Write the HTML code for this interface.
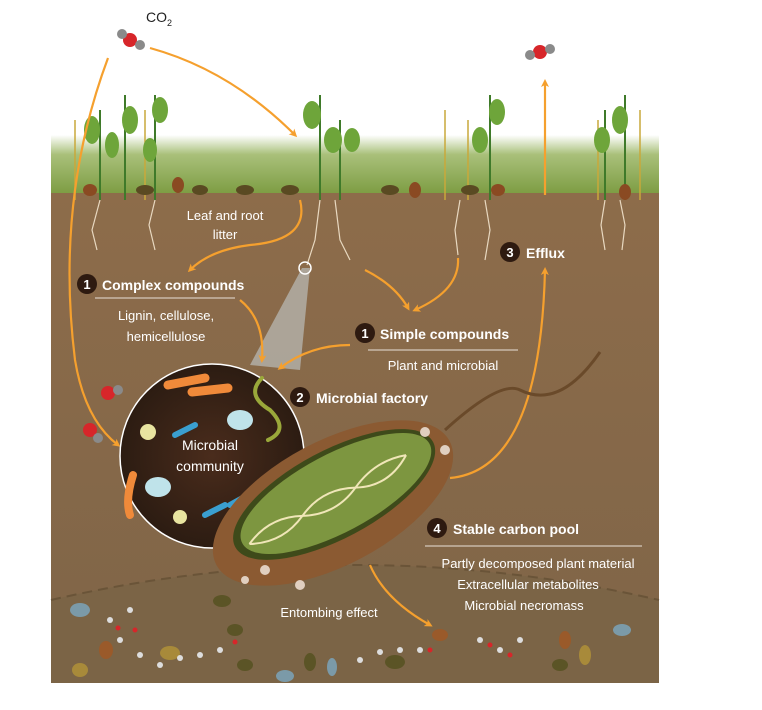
<!DOCTYPE html>
<html><head><meta charset="utf-8"><style>
html,body{margin:0;padding:0;background:#fff}
svg{display:block}
text{font-family:"Liberation Sans",sans-serif;fill:#fff}
</style></head><body>
<svg width="762" height="710" viewBox="0 0 762 710" xmlns="http://www.w3.org/2000/svg">
<defs>
<linearGradient id="grass" x1="0" y1="0" x2="0" y2="1">
<stop offset="0" stop-color="#fff"/><stop offset="0.3" stop-color="#a9c07a"/><stop offset="1" stop-color="#76973a"/></linearGradient>
<linearGradient id="soil" x1="0" y1="0" x2="0" y2="1">
<stop offset="0" stop-color="#8d6c4a"/><stop offset="1" stop-color="#7f6548"/></linearGradient>
<radialGradient id="cell" cx="0.5" cy="0.5" r="0.5">
<stop offset="0" stop-color="#4a2c1c"/><stop offset="1" stop-color="#2c1c12"/></radialGradient>
<marker id="ah" markerWidth="8" markerHeight="8" refX="5" refY="4" orient="auto" markerUnits="userSpaceOnUse">
<path d="M0,0 L8,4 L0,8 L2,4Z" fill="#f5a02e"/></marker>
</defs>
<rect x="51" y="135" width="608" height="65" fill="url(#grass)"/>
<rect x="51" y="193" width="608" height="490" fill="url(#soil)"/>
<path d="M51,600 Q355,530 659,600 L659,683 L51,683Z" fill="#7b6446"/>
<path d="M51,600 Q355,530 659,600" stroke="#6a5438" stroke-width="2" fill="none" stroke-dasharray="10,6"/>
<g stroke="#3f7a2a" stroke-width="2" fill="none">
<path d="M100,200 V110"/><path d="M125,200 V95"/><path d="M155,200 V95"/><path d="M320,200 V95"/><path d="M340,200 V120"/><path d="M490,200 V95"/><path d="M605,200 V110"/><path d="M625,200 V95"/>
</g>
<g stroke="#c9a83a" stroke-width="1.5"><path d="M75,200 V120"/><path d="M145,200 V110"/><path d="M445,200 V110"/><path d="M468,200 V120"/><path d="M640,200 V110"/><path d="M598,200 V120"/></g>
<g fill="#6ea53a">
<ellipse cx="92" cy="130" rx="8" ry="14"/><ellipse cx="112" cy="145" rx="7" ry="13"/><ellipse cx="130" cy="120" rx="8" ry="14"/><ellipse cx="160" cy="110" rx="8" ry="13"/><ellipse cx="150" cy="150" rx="7" ry="12"/>
<ellipse cx="312" cy="115" rx="9" ry="14"/><ellipse cx="333" cy="140" rx="9" ry="13"/><ellipse cx="352" cy="140" rx="8" ry="12"/>
<ellipse cx="480" cy="140" rx="8" ry="13"/><ellipse cx="497" cy="112" rx="8" ry="13"/><ellipse cx="602" cy="140" rx="8" ry="13"/><ellipse cx="620" cy="120" rx="8" ry="14"/></g>
<g fill="#5a4a22"><ellipse cx="145" cy="190" rx="9" ry="5"/><ellipse cx="200" cy="190" rx="8" ry="5"/><ellipse cx="245" cy="190" rx="9" ry="5"/><ellipse cx="290" cy="190" rx="9" ry="5"/><ellipse cx="390" cy="190" rx="9" ry="5"/><ellipse cx="470" cy="190" rx="9" ry="5"/></g>
<g fill="#8a4a22"><ellipse cx="90" cy="190" rx="7" ry="6"/><ellipse cx="178" cy="185" rx="6" ry="8"/><ellipse cx="415" cy="190" rx="6" ry="8"/><ellipse cx="498" cy="190" rx="7" ry="6"/><ellipse cx="625" cy="192" rx="6" ry="8"/></g>
<g stroke="#e8d8c0" stroke-width="1.2" fill="none">
<path d="M100,200 l-8,30 l5,20"/><path d="M155,200 l-6,25 l6,25"/><path d="M320,200 l-5,40 l-8,25"/><path d="M335,200 l5,40 l10,20"/><path d="M460,200 l-5,30 l3,25"/><path d="M485,200 l5,30 l-5,30"/><path d="M605,200 l-4,25 l4,25"/><path d="M620,200 l5,25 l-3,25"/></g>
<path d="M302,268 L310,268 L300,370 L250,365Z" fill="#c9d3d8" opacity="0.55"/>
<circle cx="305" cy="268" r="6" fill="none" stroke="#fff" stroke-width="1.5"/>
<g stroke="#f5a02e" stroke-width="2.2" fill="none" marker-end="url(#ah)">
<path d="M150,48 Q230,70 295,135"/>
<path d="M108,58 Q55,200 75,360 Q85,420 118,445"/>
<path d="M545,195 V82"/>
<path d="M300,200 Q310,240 250,245 Q210,250 190,270"/>
<path d="M365,270 Q395,285 408,308"/>
<path d="M458,258 Q460,290 415,310"/>
<path d="M240,300 Q265,320 262,360"/>
<path d="M350,345 Q310,345 280,368"/>
<path d="M450,478 Q540,470 545,270"/>
<path d="M370,565 Q385,600 430,625"/>
</g>
<circle cx="212" cy="456" r="92" fill="url(#cell)" stroke="#fff" stroke-width="1.5"/>
<g stroke-linecap="round" fill="none">
<path d="M168,385 L205,378" stroke="#f08a3a" stroke-width="9"/>
<path d="M192,392 L228,388" stroke="#f08a3a" stroke-width="9"/>
<path d="M133,475 Q125,500 130,515" stroke="#f08a3a" stroke-width="8"/>
<path d="M262,378 Q245,395 270,410 Q290,430 268,440" stroke="#9aa83a" stroke-width="4"/>
<path d="M175,435 L195,425" stroke="#3a9fd0" stroke-width="6"/>
<path d="M205,515 L225,505" stroke="#3a9fd0" stroke-width="6"/>
<path d="M230,505 L248,495" stroke="#3a9fd0" stroke-width="6"/>
</g>
<ellipse cx="240" cy="420" rx="13" ry="10" fill="#bfe3ea"/><ellipse cx="158" cy="487" rx="13" ry="10" fill="#bfe3ea"/>
<circle cx="148" cy="432" r="8" fill="#e8e4a0"/><circle cx="282" cy="477" r="8" fill="#e8e4a0"/><circle cx="180" cy="517" r="7" fill="#e8e4a0"/>
<text x="210" y="450" font-size="14" text-anchor="middle">Microbial</text>
<text x="210" y="471" font-size="14" text-anchor="middle">community</text>
<path d="M445,430 Q500,380 520,390 Q560,410 600,352" stroke="#6a4a2a" stroke-width="3" fill="none"/>
<g transform="rotate(-28 333 503)">
<ellipse cx="333" cy="503" rx="132" ry="62" fill="#8b5a32"/>
<ellipse cx="338" cy="496" rx="112" ry="44" fill="#3e4a1a"/>
<ellipse cx="340" cy="496" rx="106" ry="39" fill="#7d9640"/>
<path d="M240,500 Q270,485 300,500 T360,500 T420,495" stroke="#f0e6b8" stroke-width="2" fill="none"/>
<path d="M240,500 Q270,515 300,500 T360,500 T420,495" stroke="#f0e6b8" stroke-width="2" fill="none"/>
</g>
<g fill="#e0cfc0"><circle cx="265" cy="570" r="5"/><circle cx="245" cy="580" r="4"/><circle cx="425" cy="432" r="5"/><circle cx="445" cy="450" r="5"/><circle cx="300" cy="585" r="5"/></g>
<g><circle cx="130" cy="40" r="7" fill="#d7262a"/><circle cx="122" cy="34" r="5" fill="#8a8a8a"/><circle cx="140" cy="45" r="5" fill="#8a8a8a"/>
<circle cx="540" cy="52" r="7" fill="#d7262a"/><circle cx="530" cy="55" r="5" fill="#8a8a8a"/><circle cx="550" cy="49" r="5" fill="#8a8a8a"/>
<circle cx="108" cy="393" r="7" fill="#d7262a"/><circle cx="118" cy="390" r="5" fill="#8a8a8a"/>
<circle cx="90" cy="430" r="7" fill="#d7262a"/><circle cx="98" cy="438" r="5" fill="#8a8a8a"/></g>
<text x="146" y="22" font-size="14" style="fill:#222">CO<tspan font-size="9" dy="4">2</tspan></text>
<g fill="#5b5426"><ellipse cx="222" cy="601" rx="9" ry="6"/><ellipse cx="235" cy="630" rx="8" ry="6"/><ellipse cx="395" cy="662" rx="10" ry="7"/><ellipse cx="310" cy="662" rx="6" ry="9"/><ellipse cx="245" cy="665" rx="8" ry="6"/><ellipse cx="560" cy="665" rx="8" ry="6"/></g>
<g fill="#7b9aa8"><ellipse cx="80" cy="610" rx="10" ry="7"/><ellipse cx="285" cy="676" rx="9" ry="6"/><ellipse cx="332" cy="667" rx="5" ry="9"/><ellipse cx="622" cy="630" rx="9" ry="6"/></g>
<g fill="#a88a3a"><ellipse cx="170" cy="653" rx="10" ry="7"/><ellipse cx="80" cy="670" rx="8" ry="7"/><ellipse cx="585" cy="655" rx="6" ry="10"/></g>
<g fill="#9a5a2a"><ellipse cx="106" cy="650" rx="7" ry="9"/><ellipse cx="440" cy="635" rx="8" ry="6"/><ellipse cx="565" cy="640" rx="6" ry="9"/></g>
<g fill="#ddd"><circle cx="110" cy="620" r="3"/><circle cx="120" cy="640" r="3"/><circle cx="130" cy="610" r="3"/><circle cx="140" cy="655" r="3"/><circle cx="160" cy="665" r="3"/><circle cx="180" cy="658" r="3"/><circle cx="200" cy="655" r="3"/><circle cx="220" cy="650" r="3"/><circle cx="360" cy="660" r="3"/><circle cx="380" cy="652" r="3"/><circle cx="400" cy="650" r="3"/><circle cx="420" cy="650" r="3"/><circle cx="480" cy="640" r="3"/><circle cx="500" cy="650" r="3"/><circle cx="520" cy="640" r="3"/></g>
<g fill="#d7262a"><circle cx="118" cy="628" r="2.5"/><circle cx="135" cy="630" r="2.5"/><circle cx="235" cy="642" r="2.5"/><circle cx="430" cy="650" r="2.5"/><circle cx="490" cy="645" r="2.5"/><circle cx="510" cy="655" r="2.5"/></g>
<g font-size="13"><text x="225" y="220" text-anchor="middle">Leaf and root</text><text x="225" y="239" text-anchor="middle">litter</text></g>
<g fill="#2e1a10"><circle cx="87" cy="284" r="10" fill="#2e1a10"/><circle cx="365" cy="333" r="10" fill="#2e1a10"/><circle cx="300" cy="397" r="10" fill="#2e1a10"/><circle cx="510" cy="252" r="10" fill="#2e1a10"/><circle cx="437" cy="528" r="10" fill="#2e1a10"/></g>
<g font-size="13" font-weight="bold" text-anchor="middle"><text x="87" y="289">1</text><text x="365" y="338">1</text><text x="300" y="402">2</text><text x="510" y="257">3</text><text x="437" y="533">4</text></g>
<g font-size="14" font-weight="bold"><text x="102" y="290">Complex compounds</text><text x="380" y="339">Simple compounds</text><text x="316" y="403">Microbial factory</text><text x="526" y="258">Efflux</text><text x="453" y="534">Stable carbon pool</text></g>
<g stroke="#e8e0d8" stroke-width="1"><path d="M95,298 H235"/><path d="M368,350 H518"/><path d="M425,546 H642"/></g>
<g font-size="13" text-anchor="middle"><text x="166" y="320">Lignin, cellulose,</text><text x="166" y="341">hemicellulose</text><text x="443" y="370">Plant and microbial</text>
<text x="538" y="568">Partly decomposed plant material</text><text x="528" y="589">Extracellular metabolites</text><text x="524" y="610">Microbial necromass</text>
<text x="329" y="617">Entombing effect</text></g>
</svg>
</body></html>
